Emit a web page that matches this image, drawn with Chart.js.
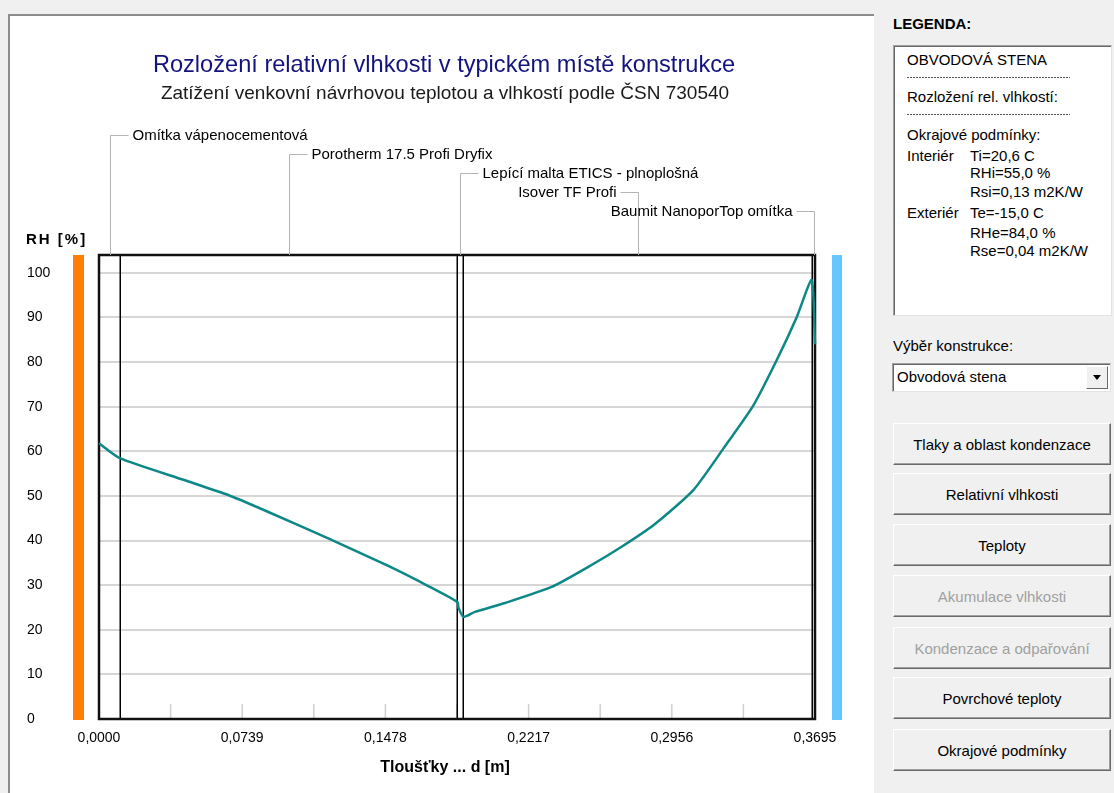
<!DOCTYPE html>
<html>
<head>
<meta charset="utf-8">
<script src="https://cdn.jsdelivr.net/npm/chart.js@4.4.0/dist/chart.umd.min.js"></script>
<style>

	html, body { margin: 0; padding: 0; }

	body {
		width: 1114px;
		height: 793px;
		position: relative;
		overflow: hidden;
		background: #f0f0f0;
		font-family: "Liberation Sans", Arial, sans-serif;
		color: #000;
	}

	#plotPanel {
		position: absolute;
		left: 8px;
		top: 14px;
		width: 866px;
		height: 790px;
		background: #fff;
		border-top: 2px solid #8c8c8c;
		border-left: 2px solid #8c8c8c;
		box-sizing: border-box;
	}

	#chart { position: absolute; left: 0; top: 0; }

	.txt { position: absolute; font-size: 15px; line-height: 18px; white-space: nowrap; }
	.bold { font-weight: bold; }

	#legendBox {
		position: absolute;
		left: 893px;
		top: 45px;
		width: 219px;
		height: 271px;
		background: #fff;
		border: 1px solid #a0a0a0;
		border-right-color: #e3e3e3;
		border-bottom-color: #e3e3e3;
		box-shadow: inset 1px 1px 0 #696969;
		box-sizing: border-box;
	}

	.dots {
		position: absolute;
		left: 907px;
		width: 163px;
		height: 1px;
		background: repeating-linear-gradient( 90deg, #555 0 2px, transparent 2px 3px );
	}

	#combo {
		position: absolute;
		left: 892px;
		top: 363px;
		width: 219px;
		height: 29px;
		background: #fff;
		border: 1px solid #a0a0a0;
		border-right-color: #e3e3e3;
		border-bottom-color: #e3e3e3;
		box-shadow: inset 1px 1px 0 #696969;
		box-sizing: border-box;
	}

	#combo span { position: absolute; left: 4px; top: 4px; font-size: 15px; line-height: 18px; }

	#comboBtn {
		position: absolute;
		right: 2px;
		top: 2px;
		width: 22px;
		height: 23px;
		background: #f0f0f0;
		border: 1px solid #fff;
		border-right-color: #696969;
		border-bottom-color: #696969;
		box-sizing: border-box;
	}

	#comboBtn::after {
		content: "";
		position: absolute;
		left: 6px;
		top: 8px;
		border-left: 4px solid transparent;
		border-right: 4px solid transparent;
		border-top: 5px solid #000;
	}

	.btn {
		position: absolute;
		left: 893px;
		width: 218px;
		height: 42px;
		background: #f0f0f0;
		border: 1px solid #fff;
		border-right-color: #696969;
		border-bottom-color: #696969;
		box-shadow: inset -1px -1px 0 #a0a0a0;
		box-sizing: border-box;
		display: flex;
		align-items: center;
		justify-content: center;
		font-size: 15px;
	}

	.btn.off { color: #a0a0a0; }

</style>
</head>
<body>

<div id="plotPanel"></div>
<canvas id="chart" width="880" height="793"></canvas>

<div class="txt bold" style="left:893px;top:15px">LEGENDA:</div>
<div id="legendBox"></div>
<div class="txt" style="left:907px;top:51px">OBVODOVÁ STENA</div>
<div class="dots" style="top:77px"></div>
<div class="txt" style="left:907px;top:88px">Rozložení rel. vlhkostí:</div>
<div class="dots" style="top:114px"></div>
<div class="txt" style="left:907px;top:126px">Okrajové podmínky:</div>
<div class="txt" style="left:907px;top:147px">Interiér</div>
<div class="txt" style="left:970px;top:147px">Ti=20,6 C</div>
<div class="txt" style="left:970px;top:164px">RHi=55,0 %</div>
<div class="txt" style="left:970px;top:183px">Rsi=0,13 m2K/W</div>
<div class="txt" style="left:907px;top:204px">Exteriér</div>
<div class="txt" style="left:970px;top:204px">Te=-15,0 C</div>
<div class="txt" style="left:970px;top:224px">RHe=84,0 %</div>
<div class="txt" style="left:970px;top:242px">Rse=0,04 m2K/W</div>

<div class="txt" style="left:893px;top:337px">Výběr konstrukce:</div>
<div id="combo"><span>Obvodová stena</span><div id="comboBtn"></div></div>

<div class="btn" style="top:423px">Tlaky a oblast kondenzace</div>
<div class="btn" style="top:473px">Relativní vlhkosti</div>
<div class="btn" style="top:524px">Teploty</div>
<div class="btn off" style="top:575px">Akumulace vlhkosti</div>
<div class="btn off" style="top:627px">Kondenzace a odpařování</div>
<div class="btn" style="top:677px">Povrchové teploty</div>
<div class="btn" style="top:729px">Okrajové podmínky</div>

<script>

// relative humidity through the wall
const depth = [ 0.0000, 0.0110, 0.0444, 0.0667, 0.0874, 0.1183, 0.1493, 0.1699, 0.1850, 0.1855, 0.1880,
	0.1940, 0.2095, 0.2336, 0.2525, 0.2697, 0.2869, 0.3067, 0.3222, 0.3377, 0.3497, 0.3601, 0.3678, 0.3695 ];
const rh = [ 61.8, 58.4, 53.5, 50.2, 46.4, 40.5, 34.3, 29.8, 26.2, 25.0, 22.9,
	24.0, 26.0, 29.6, 34.1, 38.6, 43.7, 51.3, 60.6, 70.3, 80.4, 90.1, 98.4, 84.0 ];

const layerNames = [
	'Omítka vápenocementová',
	'Porotherm 17.5 Profi Dryfix',
	'Lepící malta ETICS - plnoplošná',
	'Isover TF Profi',
	'Baumit NanoporTop omítka'
];
const layerBounds = [ 0, 0.011, 0.185, 0.188, 0.368, 0.3695 ];

const xTicks = [ 0, 0.0739, 0.1478, 0.2217, 0.2956, 0.3695 ];
const yTicks = [ 0, 10, 20, 30, 40, 50, 60, 70, 80, 90, 100 ];

const title = 'Rozložení relativní vlhkosti v typickém místě konstrukce';
const subtitle = 'Zatížení venkovní návrhovou teplotou a vlhkostí podle ČSN 730540';
const yTitle = 'RH [%]';
const xTitle = 'Tloušťky ... d [m]';

const FONT = '"Liberation Sans", Arial, sans-serif';

const decor = {

	id: 'decor',

	beforeDatasetsDraw ( chart ) {

		const { ctx, chartArea: a, scales: { x } } = chart;

		ctx.save();

		// interior and exterior strips
		ctx.fillStyle = '#ff8000';
		ctx.fillRect( a.left - 26, a.top, 11, a.bottom - a.top + 1 );
		ctx.fillStyle = '#66c6ff';
		ctx.fillRect( a.right + 17, a.top, 10, a.bottom - a.top + 1 );

		// short ticks at the bottom, halfway between labels too
		ctx.strokeStyle = '#d0d0d0';
		ctx.lineWidth = 1.5;

		for ( let i = 0; i < xTicks.length - 1; i ++ ) {

			[ xTicks[ i ] + ( xTicks[ i + 1 ] - xTicks[ i ] ) / 2, xTicks[ i + 1 ] ].forEach( v => {

				const px = x.getPixelForValue( v );
				ctx.beginPath();
				ctx.moveTo( px, a.bottom );
				ctx.lineTo( px, a.bottom - 15 );
				ctx.stroke();

			} );

		}

		// layer boundaries
		ctx.strokeStyle = '#000';
		ctx.lineWidth = 1.5;

		layerBounds.slice( 1, - 1 ).forEach( v => {

			const px = Math.round( x.getPixelForValue( v ) ) + 0.25;
			ctx.beginPath();
			ctx.moveTo( px, a.top );
			ctx.lineTo( px, a.bottom );
			ctx.stroke();

		} );

		// frame
		ctx.strokeStyle = '#111';
		ctx.lineWidth = 2.5;
		ctx.strokeRect( a.left, a.top, a.right - a.left, a.bottom - a.top );

		ctx.restore();

	},

	afterDraw ( chart ) {

		const { ctx, chartArea: a, scales: { x } } = chart;
		const cx = ( a.left + a.right ) / 2 - 13;

		ctx.save();
		ctx.textBaseline = 'middle';

		ctx.textAlign = 'center';
		ctx.fillStyle = '#13137d';
		ctx.font = '23.6px ' + FONT;
		ctx.fillText( title, cx, 65 );

		ctx.fillStyle = '#1a1a1a';
		ctx.font = '19px ' + FONT;
		ctx.fillText( subtitle, cx + 1, 94 );

		ctx.fillStyle = '#000';
		ctx.font = 'bold 16px ' + FONT;
		ctx.fillText( xTitle, cx + 1, a.bottom + 49 );

		ctx.textAlign = 'left';
		ctx.font = 'bold 15px ' + FONT;
		ctx.letterSpacing = '2px';
		ctx.fillText( yTitle, a.left - 73, a.top - 15 );
		ctx.letterSpacing = '0px';

		// layer call-outs with leader lines
		ctx.font = '15px ' + FONT;
		ctx.strokeStyle = '#b4b4b4';
		ctx.lineWidth = 1;

		layerNames.forEach( ( name, i ) => {

			const px = Math.round( x.getPixelForValue( ( layerBounds[ i ] + layerBounds[ i + 1 ] ) / 2 ) ) + 0.5;
			const py = Math.round( a.top - 120 + i * 19 ) + 0.5;
			const right = i < 3;

			ctx.beginPath();
			ctx.moveTo( px, a.top );
			ctx.lineTo( px, py );
			ctx.lineTo( right ? px + 18 : px - 18, py );
			ctx.stroke();

			ctx.textAlign = right ? 'left' : 'right';
			ctx.fillText( name, right ? px + 22 : px - 22, py );

		} );

		ctx.restore();

	}

};

new Chart( document.getElementById( 'chart' ), {
	type: 'line',
	data: {
		datasets: [ {
			data: depth.map( ( d, i ) => ( { x: d, y: rh[ i ] } ) ),
			borderColor: '#0e8787',
			borderWidth: 2.5,
			borderJoinStyle: 'round',
			pointRadius: 0,
			tension: 0.2,
			clip: 4
		} ]
	},
	options: {
		responsive: false,
		animation: false,
		layout: {
			padding: { left: 27, right: 65, top: 255, bottom: 0 }
		},
		plugins: {
			legend: { display: false },
			tooltip: { enabled: false }
		},
		scales: {
			x: {
				type: 'linear',
				min: 0,
				max: 0.3695,
				afterBuildTicks: s => { s.ticks = xTicks.map( v => ( { value: v } ) ); },
				afterFit: s => { s.height = 74; },
				grid: { display: false },
				border: { display: false },
				ticks: {
					padding: 3,
					autoSkip: false,
					maxRotation: 0,
					color: '#000',
					font: { family: FONT, size: 14 },
					callback: v => v.toFixed( 4 ).replace( '.', ',' )
				}
			},
			y: {
				min: 0,
				max: 104,
				afterBuildTicks: s => { s.ticks = yTicks.map( v => ( { value: v } ) ); },
				afterFit: s => { s.width = 72; },
				grid: { color: '#d6d6d6', lineWidth: 2, drawTicks: false },
				border: { display: false },
				ticks: {
					crossAlign: 'far',
					padding: 0,
					color: '#000',
					font: { family: FONT, size: 14 }
				}
			}
		}
	},
	plugins: [ decor ]
} );

</script>
</body>
</html>
